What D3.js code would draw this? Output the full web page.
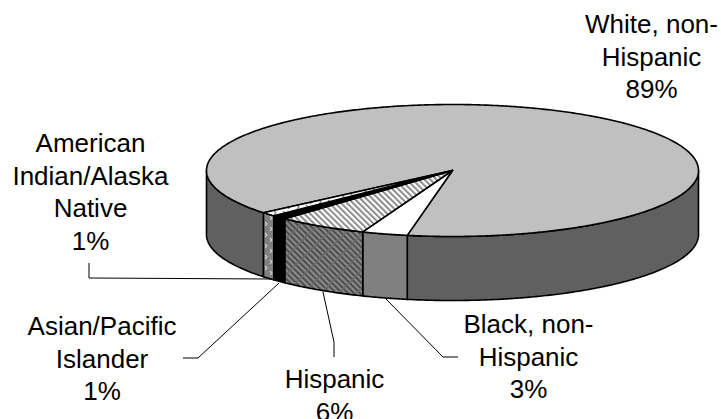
<!DOCTYPE html>
<html>
<head>
<meta charset="utf-8">
<script src="https://cdn.jsdelivr.net/npm/d3@7"></script>
<style>
html,body{margin:0;padding:0;background:#fff}
svg{display:block}
text{font-family:"Liberation Sans",Arial,sans-serif;font-size:26px;fill:#000}
</style>
</head>
<body>
<svg id="chart" width="721" height="419"></svg>
<script>
// Enrollment shares, in clockwise drawing order
const categories = ["White, non-Hispanic", "Black, non-Hispanic", "Hispanic", "Asian/Pacific Islander", "American Indian/Alaska Native"];
const shares = [89, 3, 6, 1, 1];
const topFills = ["#c0c0c0", "#ffffff", "url(#hatchLight)", "#000000", "url(#dotsLight)"];
const sideFills = ["#606060", "#808080", "url(#hatchDark)", "#000000", "url(#dotsDark)"];
const labelLines = [
  ["White, non-", "Hispanic", "89%"],
  ["Black, non-", "Hispanic", "3%"],
  ["Hispanic", "6%"],
  ["Asian/Pacific", "Islander", "1%"],
  ["American", "Indian/Alaska", "Native", "1%"]
];
const labelAnchors = [[651.5, 33], [528.5, 333], [334.5, 388], [102, 335], [90.5, 152]];
const leaders = [
  null,
  [[386, 299], [443, 357], [458, 357]],
  [[323, 292], [334, 342], [334, 357]],
  [[279, 283], [198, 358], [183, 358]],
  [[271, 279], [89, 278], [89, 263]]
];

const cx = 452.5, cy = 170.5, rx = 246, ry = 66, depth = 64;
const lineGap = 32.7;
const toRad = Math.PI / 180;
const firstAngle = 230.2;

const svg = d3.select("#chart");
const defs = svg.append("defs");

// Diagonal hatching used by the Hispanic slice
function hatch(id, bg, fg, weave) {
  const p = defs.append("pattern").attr("id", id).attr("patternUnits", "userSpaceOnUse")
    .attr("width", 4.2).attr("height", 12.6).attr("patternTransform", "rotate(-45)");
  p.append("rect").attr("width", 4.2).attr("height", 12.6).attr("fill", bg);
  p.append("rect").attr("width", 2).attr("height", 12.6).attr("fill", fg);
  if (weave) p.append("rect").attr("y", 5).attr("width", 4.2).attr("height", 1.6).attr("fill", weave);
}
hatch("hatchLight", "#ffffff", "#8c8c8c");
hatch("hatchDark", "#8a8a8a", "#4c4c4c", "#6a6a6a");

// Sparse chevrons used by the American Indian/Alaska Native slice
function dots(id, bg, fg) {
  const p = defs.append("pattern").attr("id", id).attr("patternUnits", "userSpaceOnUse")
    .attr("width", 9).attr("height", 11).attr("patternTransform", "translate(264 0)");
  p.append("rect").attr("width", 9).attr("height", 11).attr("fill", bg);
  p.append("path").attr("d", "M1 2l2 2l-2 2M6 7l2 2l-2 2").attr("fill", "none").attr("stroke", fg).attr("stroke-width", 1.1);
}
dots("dotsLight", "#ffffff", "#777777");
dots("dotsDark", "#808080", "#cfcfcf");

const pie = d3.pie().sort(null).value(d => d)
  .startAngle(firstAngle * toRad).endAngle((firstAngle + 360) * toRad);
const slices = pie(shares);

const line = d3.line();
const rimPoint = (a, dy = 0) => [cx + rx * Math.sin(a), cy - ry * Math.cos(a) + dy];
function rim(a0, a1, dy = 0) {
  const n = Math.max(2, Math.ceil(Math.abs(a1 - a0) / (toRad / 2)));
  return d3.range(n + 1).map(i => rimPoint(a0 + (a1 - a0) * i / n, dy));
}

// Side wall: only the front half of the disc is visible
const front0 = 90 * toRad, front1 = 270 * toRad;
const sideG = svg.append("g");
slices.forEach((s, i) => {
  const ranges = [[s.startAngle, s.endAngle], [s.startAngle - 2 * Math.PI, s.endAngle - 2 * Math.PI]];
  ranges.forEach(([a, b]) => {
    const lo = Math.max(a, front0), hi = Math.min(b, front1);
    if (lo >= hi) return;
    const pts = rim(lo, hi).concat(rim(hi, lo, depth));
    sideG.append("path").attr("d", line(pts) + "Z")
      .attr("fill", sideFills[i]).attr("stroke", "#000").attr("stroke-width", 1.6).attr("stroke-linejoin", "round");
  });
});

// Top face wedges
const topG = svg.append("g");
slices.forEach((s, i) => {
  const pts = [[cx, cy]].concat(rim(s.startAngle, s.endAngle));
  topG.append("path").attr("d", line(pts) + "Z")
    .attr("fill", topFills[i]).attr("stroke", "#000").attr("stroke-width", 1.6).attr("stroke-linejoin", "round");
});

// Leader lines
svg.append("g").selectAll("path").data(leaders.filter(Boolean)).join("path")
  .attr("d", d => line(d)).attr("fill", "none").attr("stroke", "#000").attr("stroke-width", 1);

// Category labels
labelLines.forEach((lines, i) => {
  const t = svg.append("text").attr("text-anchor", "middle");
  lines.forEach((str, j) => {
    t.append("tspan").attr("x", labelAnchors[i][0]).attr("y", labelAnchors[i][1] + j * lineGap).text(str);
  });
});
</script>
</body>
</html>
